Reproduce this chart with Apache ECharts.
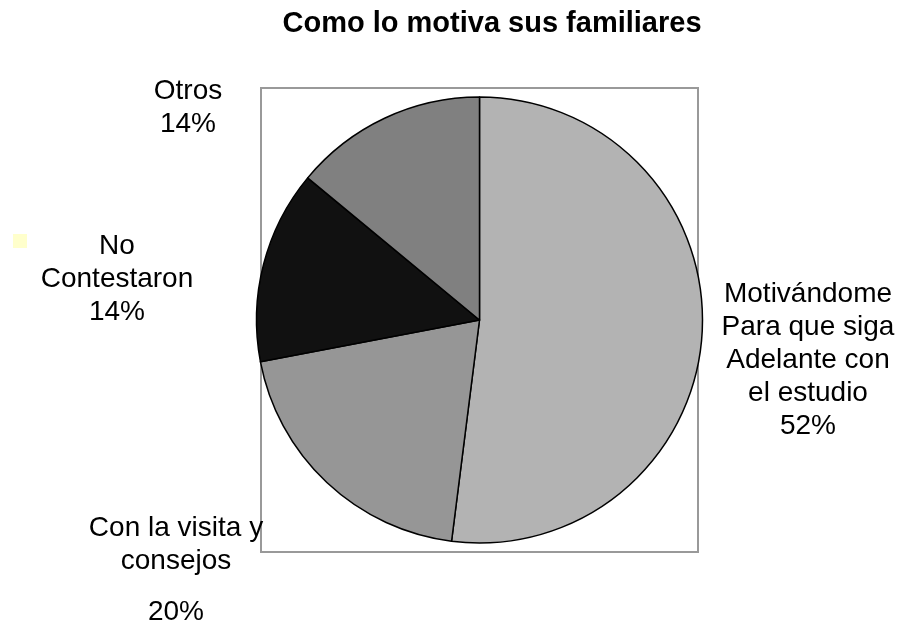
<!DOCTYPE html>
<html>
<head>
<meta charset="utf-8">
<script src="https://cdn.jsdelivr.net/npm/echarts@6/dist/echarts.min.js"></script>
<style>
  html, body { margin: 0; padding: 0; background: #fff; }
  #main { width: 910px; height: 627px; }
</style>
</head>
<body>
<div id="main"></div>
<script>
// datos del grafico
var categorias = [
    'Motivándome\nPara que siga\nAdelante con\nel estudio',
    'Con la visita y\nconsejos',
    'No\nContestaron',
    'Otros'
];
var valores = [52, 20, 14, 14];
var colores = ['#b3b3b3', '#969696', '#111111', '#808080'];

// donde va cada etiqueta (centro del bloque de texto)
var posEtiquetas = [[808, 360], [176, 579], [117, 279], [188, 108]];

var myChart = echarts.init(document.getElementById('main'));

var option = {
    backgroundColor: '#fff',
    animation: false,
    title: {
        text: 'Como lo motiva sus familiares',
        left: 492,
        top: 9,
        padding: 0,
        textAlign: 'center',
        textStyle: {
            fontFamily: 'Liberation Sans',
            fontSize: 29,
            fontWeight: 'bold',
            color: '#000'
        }
    },
    graphic: [
        {
            type: 'rect',
            z: 0,
            shape: { x: 261, y: 88, width: 437, height: 464 },
            style: { fill: 'none', stroke: '#999', lineWidth: 2 }
        },
        {
            type: 'rect',
            shape: { x: 13, y: 234, width: 14, height: 14 },
            style: { fill: '#ffffcc' }
        }
    ],
    series: [
        {
            type: 'pie',
            center: [479.5, 320],
            radius: 223,
            startAngle: 90,
            clockwise: true,
            percentPrecision: 0,
            z: 5,
            itemStyle: { borderColor: '#000', borderWidth: 1.5 },
            labelLine: { show: false },
            label: {
                show: true,
                position: 'outside',
                overflow: 'none',
                color: '#000',
                fontFamily: 'Liberation Sans',
                formatter: function (p) {
                    var lineas = p.name.split('\n').map(function (s) { return '{a|' + s + '}'; });
                    if (p.dataIndex === 1) {
                        return lineas.join('\n') + '\n{g|' + p.percent + '%}';
                    }
                    lineas.push('{a|' + p.percent + '%}');
                    return lineas.join('\n');
                },
                rich: {
                    a: { fontFamily: 'Liberation Sans', fontSize: 28, lineHeight: 33, color: '#000', align: 'center' },
                    g: { fontFamily: 'Liberation Sans', fontSize: 28, lineHeight: 68, color: '#000', align: 'center' }
                }
            },
            labelLayout: function (params) {
                var pos = posEtiquetas[params.dataIndex];
                return { x: pos[0], y: pos[1], align: 'center', verticalAlign: 'middle' };
            },
            data: categorias.map(function (c, i) {
                return { name: c, value: valores[i], itemStyle: { color: colores[i] } };
            })
        }
    ]
};

myChart.setOption(option);
</script>
</body>
</html>
